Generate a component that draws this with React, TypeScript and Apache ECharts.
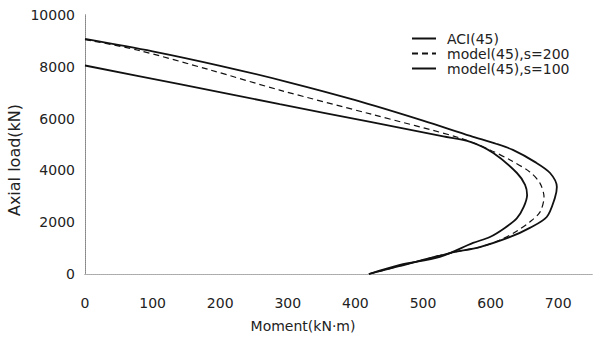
import React, { useEffect, useRef } from "react";
import * as echarts from "echarts";

const seriesNames = ["ACI(45)", "model(45),s=200", "model(45),s=100"];

// [moment (kN·m), axial load (kN)]
const aci: number[][] = [
  [0, 8050], [140, 7330], [288, 6560], [422, 5870], [530, 5310], [570, 5100], [604, 4670],
  [639, 3900], [651, 3440], [654, 3050], [649, 2590], [639, 2160], [621, 1780],
  [599, 1430], [574, 1200], [525, 660], [466, 350], [420, 0],
];
const model200: number[][] = [
  [0, 9050], [77, 8650], [185, 7880], [288, 7100], [422, 6180], [555, 5250],
  [599, 4790], [629, 4400], [658, 3940], [673, 3510], [679, 2970], [673, 2390],
  [658, 2010], [639, 1660], [614, 1310], [584, 1040], [540, 810], [466, 310], [420, 0],
];
const model100: number[][] = [
  [0, 9080], [100, 8600], [200, 8040], [300, 7410], [400, 6710], [500, 5920],
  [570, 5330], [609, 5020], [633, 4790], [666, 4320], [688, 3900], [698, 3360],
  [695, 2930], [683, 2200], [658, 1780], [629, 1430], [584, 1040], [540, 810],
  [466, 310], [420, 0],
];

const xTicks = [0, 100, 200, 300, 400, 500, 600, 700];
const yTicks = [0, 2000, 4000, 6000, 8000, 10000];

const FONT = "'DejaVu Sans', Verdana, sans-serif";
const TXT = "#222";

export default function App() {
  const ref = useRef<HTMLDivElement>(null);
  useEffect(() => {
    if (!ref.current) return;
    const chart = echarts.init(ref.current, undefined, { renderer: "svg" });
    const line = { color: "#111", width: 1.8 };
    chart.setOption({
      animation: false,
      backgroundColor: "#fff",
      textStyle: { fontFamily: FONT },
      grid: { left: 85, right: 20, top: 15, bottom: 65 },
      legend: {
        orient: "vertical",
        left: 411,
        top: 31,
        padding: 0,
        itemWidth: 24,
        itemHeight: 15,
        itemGap: 0,
        data: seriesNames,
        itemStyle: { opacity: 0 },
        textStyle: {
          fontFamily: FONT,
          fontSize: 14,
          lineHeight: 15,
          color: TXT,
          padding: [0, 0, 0, 6],
        },
      },
      xAxis: [
        {
          type: "value",
          min: 0,
          max: 750,
          interval: 100,
          position: "bottom",
          splitLine: { show: false },
          axisTick: { show: false },
          axisLine: { show: true, lineStyle: { color: "#999", width: 1, type: "dotted" } },
          axisLabel: {
            margin: 22,
            fontSize: 14,
            color: TXT,
            fontFamily: FONT,
            formatter: (v: number) => (xTicks.includes(v) ? String(v) : ""),
          },
        },
        {
          type: "value",
          min: 0,
          max: 750,
          position: "top",
          splitLine: { show: false },
          axisTick: { show: false },
          axisLabel: { show: false },
          axisLine: { show: true, lineStyle: { color: "#aaa", width: 1, type: "dotted" } },
        },
      ],
      yAxis: [
        {
          type: "value",
          min: 0,
          max: 10000,
          interval: 2000,
          position: "left",
          splitLine: { show: false },
          axisTick: { show: false },
          axisLine: { show: true, lineStyle: { color: "#666", width: 1 } },
          axisLabel: {
            margin: 10,
            fontSize: 14,
            color: TXT,
            fontFamily: FONT,
            formatter: (v: number) => (yTicks.includes(v) ? String(v) : ""),
          },
        },
        {
          type: "value",
          min: 0,
          max: 10000,
          position: "right",
          splitLine: { show: false },
          axisTick: { show: false },
          axisLabel: { show: false },
          axisLine: { show: true, lineStyle: { color: "#999", width: 1, type: "dotted" } },
        },
      ],
      graphic: [
        {
          type: "text",
          x: 303,
          y: 326,
          style: {
            text: "Moment(kN·m)",
            fontSize: 14,
            fontFamily: FONT,
            fill: TXT,
            align: "center",
            verticalAlign: "middle",
          },
        },
        {
          type: "text",
          x: 14,
          y: 160,
          rotation: Math.PI / 2,
          style: {
            text: "Axial load(kN)",
            fontSize: 16,
            fontFamily: FONT,
            fill: TXT,
            align: "center",
            verticalAlign: "middle",
          },
        },
      ],
      series: [
        {
          name: seriesNames[0],
          type: "line",
          data: aci,
          showSymbol: false,
          symbol: "none",
          smooth: 0.3,
          lineStyle: line,
          itemStyle: { color: "#111" },
        },
        {
          name: seriesNames[1],
          type: "line",
          data: model200,
          showSymbol: false,
          symbol: "none",
          smooth: 0.3,
          lineStyle: { color: "#111", width: 1.2, type: [6, 4] },
          itemStyle: { color: "#111" },
        },
        {
          name: seriesNames[2],
          type: "line",
          data: model100,
          showSymbol: false,
          symbol: "none",
          smooth: 0.3,
          lineStyle: line,
          itemStyle: { color: "#111" },
        },
      ],
    });
    return () => chart.dispose();
  }, []);
  return (
    <div
      ref={ref}
      style={{ position: "absolute", left: 0, top: 0, width: 612, height: 339 }}
    />
  );
}
